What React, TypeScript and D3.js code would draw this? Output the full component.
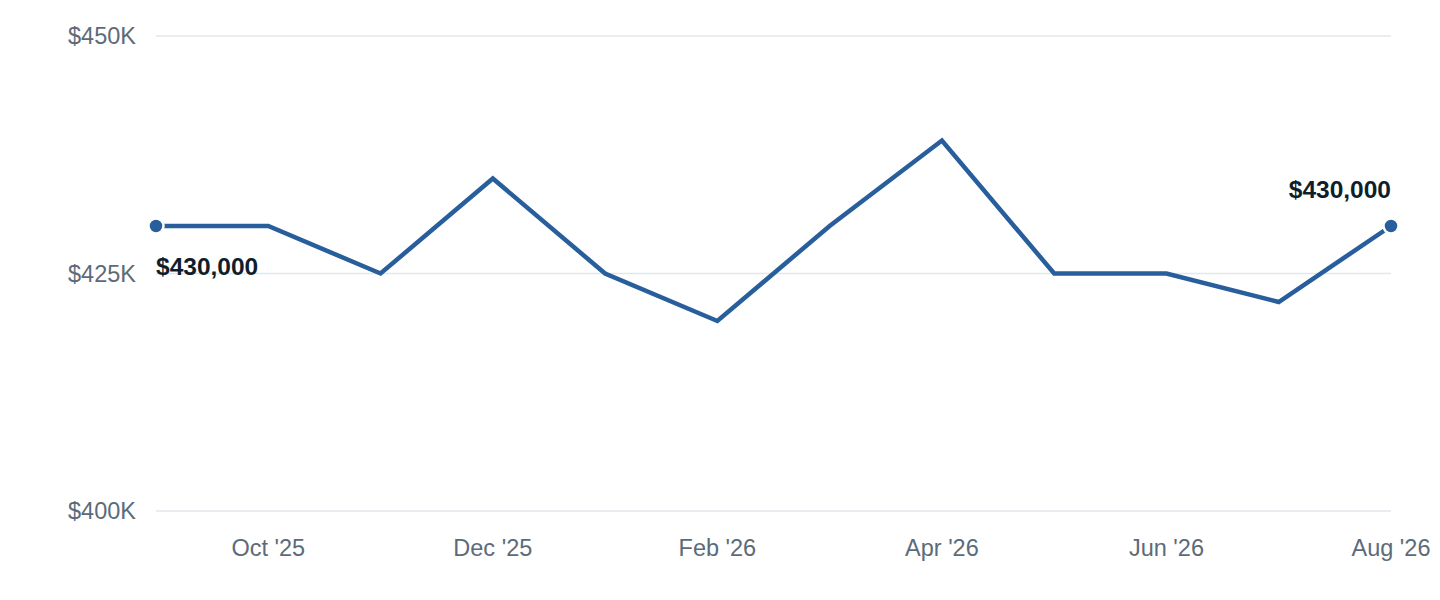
import { useRef, useEffect } from "react";
import * as d3 from "d3";

const months = ["Sep '25", "Oct '25", "Nov '25", "Dec '25", "Jan '26", "Feb '26", "Mar '26", "Apr '26", "May '26", "Jun '26", "Jul '26", "Aug '26"];
const prices = [430000, 430000, 425000, 435000, 425000, 420000, 430000, 439000, 425000, 425000, 422000, 430000];
const yTicks = [400000, 425000, 450000];
const xTickLabels = ["Oct '25", "Dec '25", "Feb '26", "Apr '26", "Jun '26", "Aug '26"];

export default function App() {
  const svgRef = useRef<SVGSVGElement>(null);

  useEffect(() => {
    if (!svgRef.current) return;
    const svg = d3.select(svgRef.current);
    svg.selectAll("*").remove();

    const width = 1440;
    const height = 600;
    const margin = { top: 36, right: 49, bottom: 89, left: 156 };
    const font = "'Liberation Sans', Arial, Helvetica, sans-serif";

    const x = d3.scalePoint<string>().domain(months).range([margin.left, width - margin.right]);
    const y = d3.scaleLinear().domain([400000, 450000]).range([height - margin.bottom, margin.top]);

    // Grid
    svg.append("g")
      .selectAll("line")
      .data(yTicks)
      .join("line")
      .attr("x1", margin.left)
      .attr("x2", width - margin.right)
      .attr("y1", (d) => y(d))
      .attr("y2", (d) => y(d))
      .attr("stroke", "#e2e7ee")
      .attr("stroke-width", 1.5);

    // Y labels
    svg.append("g")
      .selectAll("text")
      .data(yTicks)
      .join("text")
      .attr("x", 136)
      .attr("y", (d) => y(d))
      .attr("dy", "0.35em")
      .attr("text-anchor", "end")
      .attr("fill", "#5c6b79")
      .attr("font-family", font)
      .attr("font-size", "23.5px")
      .text((d) => `$${d / 1000}K`);

    // X labels
    svg.append("g")
      .selectAll("text")
      .data(xTickLabels)
      .join("text")
      .attr("x", (d) => x(d) as number)
      .attr("y", 556)
      .attr("text-anchor", "middle")
      .attr("fill", "#5c6b79")
      .attr("font-family", font)
      .attr("font-size", "23.5px")
      .text((d) => d);

    const line = d3
      .line<number>()
      .x((_, i) => x(months[i]) as number)
      .y((d) => y(d));

    svg.append("path")
      .datum(prices)
      .attr("d", line)
      .attr("fill", "none")
      .attr("stroke", "#285e9b")
      .attr("stroke-width", 4.5)
      .attr("stroke-linejoin", "miter");

    // End points
    const ends = [0, prices.length - 1];
    svg.append("g")
      .selectAll("circle")
      .data(ends)
      .join("circle")
      .attr("cx", (i) => x(months[i]) as number)
      .attr("cy", (i) => y(prices[i]))
      .attr("r", 7.5)
      .attr("fill", "#285e9b")
      .attr("stroke", "#ffffff")
      .attr("stroke-width", 2.5);

    const fmt = d3.format("$,");
    // First label below-right, last label above-left
    svg.append("text")
      .attr("x", x(months[0]) as number)
      .attr("y", y(prices[0]) + 49)
      .attr("fill", "#0f1e2b")
      .attr("font-family", font)
      .attr("font-size", "24.5px")
      .attr("font-weight", "700")
      .text(fmt(prices[0]));

    svg.append("text")
      .attr("x", x(months[months.length - 1]) as number)
      .attr("y", y(prices[prices.length - 1]) - 28)
      .attr("text-anchor", "end")
      .attr("fill", "#0f1e2b")
      .attr("font-family", font)
      .attr("font-size", "24.5px")
      .attr("font-weight", "700")
      .text(fmt(prices[prices.length - 1]));
  }, []);

  return (
    <div style={{ position: "absolute", top: 0, left: 0, background: "#fff" }}>
      <svg ref={svgRef} width={1440} height={600} style={{ display: "block" }} />
    </div>
  );
}
